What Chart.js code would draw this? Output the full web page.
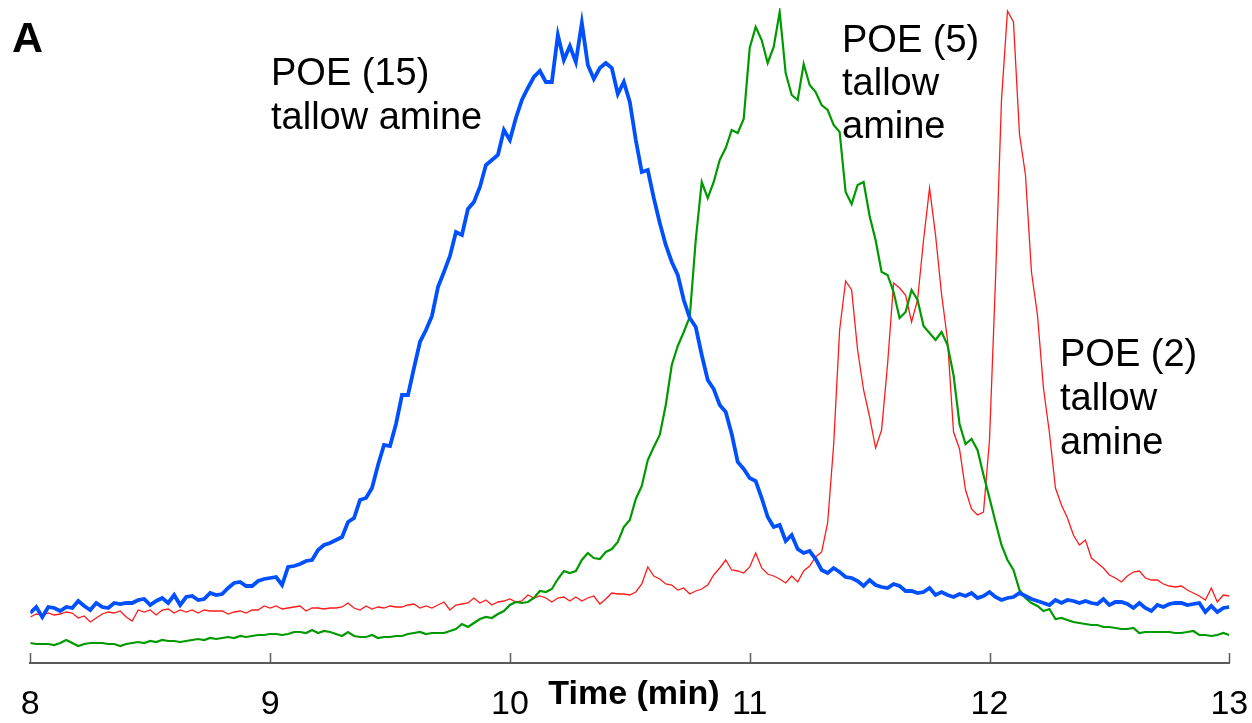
<!DOCTYPE html>
<html lang="en">
<head>
<meta charset="UTF-8">
<title>POE tallow amine chromatogram</title>
<script src="https://cdn.jsdelivr.net/npm/chart.js"></script>
<style>
  html, body { margin: 0; padding: 0; background: #fff; }
  #wrap { width: 1252px; height: 723px; position: relative; }
</style>
</head>
<body>
<div id="wrap"><canvas id="chromChart"></canvas></div>
<script>
// sampling grid: 8.00 .. 13.00 min, one point every 0.025 min
const startTime = 8;
const timeStep = 0.025;

// POE (15) tallow amine
const poe15 = [
  50, 56, 46, 56, 55, 52, 56, 55, 62, 57,
  53, 60, 56, 55, 60, 59, 60, 60, 63, 64,
  58, 62, 65, 60, 68, 58, 66, 67, 63, 64,
  70, 68, 69, 75, 80, 81, 77, 77, 82, 84,
  85, 86, 78, 96, 97, 99, 102, 103, 113, 118,
  120, 123, 126, 141, 145, 163, 165, 175, 198, 218,
  217, 239, 268, 268, 295, 321, 333, 347, 376, 391,
  407, 431, 428, 454, 461, 476, 498, 503, 508, 533,
  523, 545, 563, 575, 586, 592, 581, 581, 628, 603,
  617, 601, 640, 598, 584, 595, 600, 595, 569, 581,
  561, 523, 491, 493, 465, 440, 418, 401, 388, 363,
  345, 336, 308, 283, 274, 258, 251, 229, 201, 194,
  185, 182, 165, 146, 136, 138, 122, 128, 114, 110,
  112, 104, 93, 90, 95, 91, 86, 85, 82, 77,
  83, 78, 76, 75, 79, 77, 72, 72, 70, 71,
  75, 68, 71, 68, 66, 69, 67, 70, 65, 67,
  71, 66, 63, 65, 66, 70, 67, 64, 62, 60,
  58, 63, 60, 63, 62, 60, 62, 60, 59, 64,
  58, 61, 61, 59, 55, 60, 55, 52, 58, 56,
  59, 60, 60, 58, 59, 60, 51, 57, 51, 55, 56
];

// POE (5) tallow amine
const poe5 = [
  20, 19, 19, 19, 18, 20, 23, 20, 17, 19,
  20, 20, 20, 19, 19, 17, 19, 20, 21, 20,
  22, 21, 23, 22, 22, 21, 22, 23, 24, 23,
  25, 24, 25, 26, 25, 27, 26, 27, 28, 28,
  29, 29, 28, 29, 31, 31, 30, 33, 30, 32,
  31, 29, 27, 31, 27, 26, 26, 28, 25, 26,
  26, 27, 27, 29, 30, 31, 29, 30, 30, 30,
  32, 34, 39, 36, 40, 44, 46, 45, 49, 52,
  58, 61, 60, 61, 65, 72, 71, 74, 84, 92,
  90, 92, 103, 110, 105, 104, 111, 114, 121, 136,
  143, 164, 177, 203, 216, 228, 258, 298, 317, 331,
  346, 423, 481, 465, 481, 503, 515, 533, 530, 544,
  615, 636, 623, 600, 616, 651, 590, 568, 563, 599,
  578, 571, 558, 553, 538, 531, 471, 459, 478, 481,
  447, 423, 391, 388, 371, 345, 351, 373, 363, 337,
  330, 323, 331, 318, 288, 239, 219, 224, 213, 188,
  165, 141, 118, 103, 93, 73, 65, 60, 57, 52,
  54, 44, 45, 43, 41, 40, 39, 38, 38, 36,
  36, 35, 34, 34, 35, 30, 31, 31, 31, 31,
  31, 30, 30, 31, 32, 28, 28, 27, 28, 30, 28
];

// POE (2) tallow amine
const poe2 = [
  46, 49, 48, 50, 48, 49, 51, 50, 45, 47,
  41, 45, 49, 51, 50, 52, 46, 42, 53, 51,
  53, 48, 53, 54, 50, 53, 51, 53, 50, 53,
  52, 52, 52, 49, 51, 52, 50, 53, 53, 57,
  55, 57, 54, 55, 56, 57, 52, 55, 55, 54,
  55, 55, 56, 60, 55, 53, 57, 54, 56, 55,
  57, 56, 56, 58, 59, 55, 57, 55, 58, 61,
  53, 58, 59, 60, 65, 60, 63, 58, 61, 62,
  64, 61, 62, 68, 65, 67, 65, 61, 65, 66,
  62, 66, 62, 65, 67, 59, 64, 70, 69, 69,
  68, 71, 79, 96, 87, 84, 79, 78, 73, 75,
  69, 72, 74, 78, 88, 95, 103, 93, 92, 90,
  96, 110, 95, 89, 87, 84, 80, 87, 81, 92,
  97, 106, 111, 140, 218, 333, 382, 373, 313, 273,
  246, 215, 233, 299, 380, 375, 368, 341, 363, 423,
  475, 428, 369, 323, 231, 214, 173, 154, 148, 151,
  223, 383, 563, 652, 641, 529, 488, 391, 348, 275,
  230, 175, 158, 145, 128, 118, 123, 105, 100, 95,
  88, 85, 81, 87, 91, 92, 85, 83, 83, 79,
  77, 76, 77, 73, 70, 67, 63, 75, 61, 68, 67
];

const timeTicks = [8, 9, 10, 11, 12, 13];

const times = poe15.map((_, i) => +(startTime + i * timeStep).toFixed(3));
const toPoints = arr => arr.map((v, i) => ({ x: times[i], y: v }));

const FONT = '"Liberation Sans", Arial, Helvetica, sans-serif';

// peak labels, tick marks and axis title
const decorPlugin = {
  id: 'decor',
  afterDraw(chart) {
    const ctx = chart.ctx;
    const xs = chart.scales.x;
    const bottom = chart.chartArea.bottom;
    ctx.save();

    ctx.strokeStyle = '#5a5a5a';
    ctx.lineWidth = 1.5;
    timeTicks.forEach(t => {
      const px = Math.round(xs.getPixelForValue(t)) + 0.5;
      ctx.beginPath();
      ctx.moveTo(px, bottom);
      ctx.lineTo(px, bottom - 10);
      ctx.stroke();
    });

    ctx.fillStyle = '#000';
    ctx.textAlign = 'left';
    ctx.textBaseline = 'alphabetic';

    ctx.font = 'bold 43px ' + FONT;
    ctx.fillText('A', 12, 52);

    ctx.font = '38px ' + FONT;
    ctx.fillText('POE (15)', 271, 85);
    ctx.fillText('tallow amine', 271, 129);

    ctx.fillText('POE (5)', 842, 52);
    ctx.fillText('tallow', 842, 95);
    ctx.fillText('amine', 842, 138);

    ctx.fillText('POE (2)', 1060, 366);
    ctx.fillText('tallow', 1060, 410);
    ctx.fillText('amine', 1060, 454);

    ctx.font = 'bold 34px ' + FONT;
    ctx.textAlign = 'center';
    ctx.fillText('Time (min)', 634, 704);

    ctx.restore();
  }
};

new Chart(document.getElementById('chromChart'), {
  type: 'line',
  data: {
    datasets: [
      {
        label: 'POE (15) tallow amine',
        data: toPoints(poe15),
        borderColor: '#0050ff',
        borderWidth: 3.8,
        pointRadius: 0,
        tension: 0
      },
      {
        label: 'POE (5) tallow amine',
        data: toPoints(poe5),
        borderColor: '#009a00',
        borderWidth: 2.2,
        pointRadius: 0,
        tension: 0
      },
      {
        label: 'POE (2) tallow amine',
        data: toPoints(poe2),
        borderColor: '#ff1a1a',
        borderWidth: 1.3,
        pointRadius: 0,
        tension: 0
      }
    ]
  },
  options: {
    responsive: true,
    maintainAspectRatio: false,
    animation: false,
    layout: { padding: { left: 30.3, right: 22.7, top: 8, bottom: 0 } },
    plugins: {
      legend: { display: false },
      tooltip: { enabled: false }
    },
    scales: {
      x: {
        type: 'linear',
        min: 8,
        max: 13,
        afterBuildTicks: scale => {
          scale.ticks = timeTicks.map(v => ({ value: v }));
        },
        afterFit: scale => {
          scale.height = 60;
          scale.paddingLeft = 0;
          scale.paddingRight = 0;
        },
        grid: { display: false, drawTicks: false },
        border: { display: true, color: '#5a5a5a', width: 2 },
        ticks: {
          padding: 21,
          color: '#000',
          font: { family: FONT, size: 34 }
        }
      },
      y: {
        display: false,
        min: 0,
        max: 655
      }
    }
  },
  plugins: [decorPlugin]
});
</script>
</body>
</html>
